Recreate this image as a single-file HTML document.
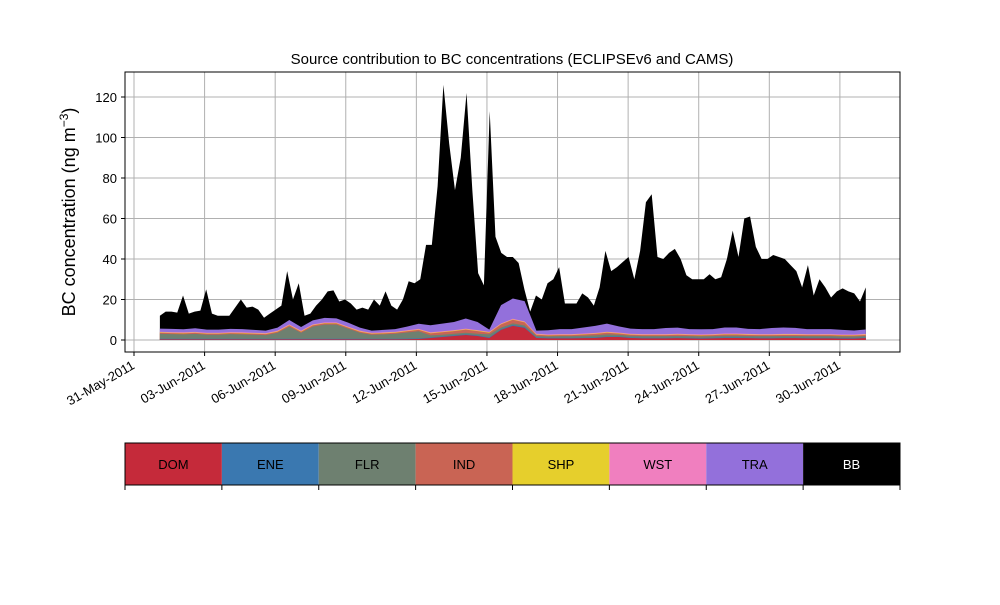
<!DOCTYPE html>
<html><head><meta charset="utf-8">
<style>
body{margin:0;background:#fff;}
svg text{font-family:"Liberation Sans",sans-serif;}
</style></head>
<body>
<svg id="chart" width="1000" height="600" viewBox="0 0 1000 600" xmlns="http://www.w3.org/2000/svg">
<text x="512" y="64" font-size="15" text-anchor="middle">Source contribution to BC concentrations (ECLIPSEv6 and CAMS)</text>
<text transform="translate(75,212) rotate(-90)" font-size="18" text-anchor="middle">BC concentration (ng m<tspan baseline-shift="super" font-size="12">−3</tspan>)</text>
<g id="grid"></g>
<g id="areas"></g>
<rect x="125" y="72" width="775" height="280" fill="none" stroke="#000" stroke-width="1"/>
<g id="axes"></g>
<g id="legend"></g>
</svg>
<script>
// ---- data ----
const dateLabels=["31-May-2011","03-Jun-2011","06-Jun-2011","09-Jun-2011","12-Jun-2011","15-Jun-2011","18-Jun-2011","21-Jun-2011","24-Jun-2011","27-Jun-2011","30-Jun-2011"];
const dateTickDays=[0,3,6,9,12,15,18,21,24,27,30];
const yTicks=[0,20,40,60,80,100,120];
const startDay=1.1, endDay=31.1;
const totalConc=[12,14,14,13.5,22,13,14,14.5,25,13,12,12,12,16,20,16,16.5,15,11,13,15,17,34,20,28,12,13,17,20,24,24.5,19,20,18,15,16,15,20,17,24,17,15,20,29,28,30,47,47,76,126,97,74,90,122,74,33,27,113,51,43,41,41,38,25,14,22,20,28,30,36,18,18,18,23,21,17,26,44,34,36,38.5,41,30,44,68,72,41,40,43,45,40,32,30,30,30,32.5,30,31,40,54,41,60,61,46,40,40,42,41,40,37,34,26,37,22,30,26,21,24,25.5,24,23,19,26];
const sources=["DOM","ENE","FLR","IND","SHP","WST","TRA","BB"];
const colors=["#c52a3a","#3a78b0","#6e8070","#c96454","#e6cf2c","#f07fbf","#9370db","#000000"];
const DOM=[0.3,0.3,0.3,0.3,0.3,0.3,0.3,0.3,0.3,0.3,0.3,0.3,0.3,0.3,0.3,0.3,0.3,0.3,0.3,0.3,0.3,0.4,0.5,1,1.5,2,2.5,2,1,5,7,6,1,0.8,0.8,0.8,0.9,1,1.5,1.5,1,0.8,0.8,0.8,0.9,0.8,0.7,0.8,1,1,0.9,0.8,0.8,0.9,0.9,0.8,0.8,0.8,0.7,0.7,1];
const ENE=[0.3,0.3,0.3,0.3,0.3,0.3,0.3,0.3,0.3,0.3,0.3,0.3,0.3,0.3,0.3,0.3,0.3,0.3,0.3,0.3,0.3,0.3,0.3,0.3,0.3,0.3,0.3,0.3,0.3,0.4,0.4,0.4,0.3,0.3,0.3,0.3,0.3,0.3,0.3,0.3,0.3,0.3,0.3,0.3,0.3,0.3,0.3,0.3,0.3,0.3,0.3,0.3,0.3,0.3,0.3,0.3,0.3,0.3,0.3,0.3,0.3];
const FLR=[2.5,2.3,2.2,2.4,2,2,2.3,2.2,2,1.8,3,6,3,6,7,7,5,3,2,2.2,2.5,3,3.5,1,0.8,0.8,0.8,0.8,1.5,0.8,0.8,0.8,0.7,0.7,0.8,0.8,0.9,1,1,0.8,0.8,0.8,0.8,0.8,0.8,0.8,0.8,0.8,0.8,0.8,0.8,0.8,0.8,0.8,0.8,0.8,0.8,0.8,0.7,0.7,0.7];
const IND=[0.5,0.5,0.5,0.5,0.5,0.5,0.5,0.5,0.5,0.5,0.5,0.6,0.5,0.6,0.6,0.6,0.5,0.5,0.5,0.5,0.5,0.6,0.7,1,1.2,1.3,1.5,1.3,0.8,1.5,1.8,1.5,0.6,0.5,0.5,0.5,0.6,0.7,0.8,0.6,0.5,0.5,0.5,0.5,0.6,0.5,0.5,0.5,0.6,0.6,0.5,0.5,0.5,0.5,0.5,0.5,0.5,0.5,0.5,0.5,0.5];
const SHP=[0.2,0.2,0.2,0.2,0.2,0.2,0.2,0.2,0.2,0.2,0.2,0.2,0.2,0.2,0.2,0.2,0.2,0.2,0.2,0.2,0.2,0.2,0.2,0.2,0.2,0.2,0.2,0.2,0.2,0.2,0.2,0.2,0.2,0.2,0.2,0.2,0.2,0.2,0.2,0.2,0.2,0.2,0.2,0.2,0.2,0.2,0.2,0.2,0.2,0.2,0.2,0.2,0.2,0.2,0.2,0.2,0.2,0.2,0.2,0.2,0.2];
const WST=[0.3,0.3,0.3,0.3,0.3,0.3,0.3,0.3,0.3,0.3,0.3,0.3,0.3,0.3,0.3,0.3,0.3,0.3,0.3,0.3,0.3,0.3,0.3,0.3,0.3,0.3,0.3,0.3,0.3,0.3,0.3,0.3,0.3,0.3,0.3,0.3,0.3,0.3,0.3,0.3,0.3,0.3,0.3,0.3,0.3,0.3,0.3,0.3,0.3,0.3,0.3,0.3,0.3,0.3,0.3,0.3,0.3,0.3,0.3,0.3,0.3];
const TRA=[1.5,1.6,1.5,1.8,1.5,1.5,1.6,1.6,1.4,1.2,1.5,2.2,1.8,2,2.2,2,2,1.5,1,1.2,1.3,1.8,2.5,3.5,3.8,4,5,4,1,9,10,10,1.5,2,2.5,2.5,3,3.5,4,3,2.5,2.5,2.5,3,3,2.5,2.5,2.5,3,3,2.5,2.5,3,3.2,3,2.5,2.5,2.5,2.3,2,2.2];
// ---- scales ----
const X0=134, dayPx=23.53;
const xs=d=>X0+d*dayPx;
const ys=v=>340-v*2.025;
const NS="http://www.w3.org/2000/svg";
function mk(tag,attrs,parent){const e=document.createElementNS(NS,tag);for(const k in attrs)e.setAttribute(k,attrs[k]);parent.appendChild(e);return e;}
const grid=document.getElementById('grid'), axes=document.getElementById('axes'), areas=document.getElementById('areas'), legend=document.getElementById('legend');
yTicks.forEach(v=>{
  const l=mk('line',{x1:125,x2:900,y1:ys(v),y2:ys(v),stroke:'#b0b0b0','stroke-width':1},grid);
  
  
  const t=mk('line',{x1:121,x2:125,y1:ys(v),y2:ys(v),stroke:'#000'},axes);
  
  
  const tx=mk('text',{x:117,y:ys(v)+5,'font-size':13,'text-anchor':'end'},axes);
  tx.textContent=v;
  
  
});
dateTickDays.forEach((d,i)=>{
  const x=xs(d);
  const l=mk('line',{x1:x,x2:x,y1:72,y2:352,stroke:'#b0b0b0','stroke-width':1},grid);
  
  
  const t=mk('line',{x1:x,x2:x,y1:352,y2:356,stroke:'#000'},axes);
  
  
  const tx=mk('text',{transform:`translate(${x-3},${360}) rotate(-30)`,'font-size':13,'text-anchor':'end',dy:'0.7em'},axes);
  tx.textContent=dateLabels[i];
  
  
});
{
  const n=totalConc.length;
  let p=`M${xs(startDay)},${ys(0)}`;
  totalConc.forEach((v,i)=>{p+=` L${xs(startDay+(endDay-startDay)*i/(n-1))},${ys(v)}`;});
  p+=` L${xs(endDay)},${ys(0)} Z`;
  const e=mk('path',{d:p,fill:colors[7]},areas);
  
  
}
const comps=[DOM,ENE,FLR,IND,SHP,WST,TRA];
const m=DOM.length;
const cum=new Array(m).fill(0);
const layers=[];
comps.forEach(arr=>{const lo=cum.slice();arr.forEach((v,i)=>cum[i]+=v);layers.push([lo,cum.slice()]);});
for(let k=layers.length-1;k>=0;k--){
  const hi=layers[k][1];
  let p=`M${xs(startDay)},${ys(0)}`;
  hi.forEach((v,i)=>{p+=` L${xs(startDay+(endDay-startDay)*i/(m-1))},${ys(v)}`;});
  p+=` L${xs(endDay)},${ys(0)} Z`;
  const e=mk('path',{d:p,fill:colors[k]},areas);
  
  
}
const LX=125,LW=775/8;
sources.forEach((s,i)=>{
  const r=mk('rect',{x:LX+i*LW,y:443,width:LW,height:42,fill:colors[i]},legend);
  
  
  const t=mk('text',{x:LX+i*LW+LW/2,y:469,'font-size':13,'text-anchor':'middle',fill:s==='BB'?'#fff':'#000'},legend);
  t.textContent=s;
  
  
});
for(let i=0;i<=8;i++){
  const t=mk('line',{x1:LX+i*LW,x2:LX+i*LW,y1:485,y2:490,stroke:'#000'},legend);
  
  
}
{
  const f=mk('rect',{x:LX,y:443,width:775,height:42,fill:'none',stroke:'#000'},legend);
  
  
}
</script>
</body></html>
